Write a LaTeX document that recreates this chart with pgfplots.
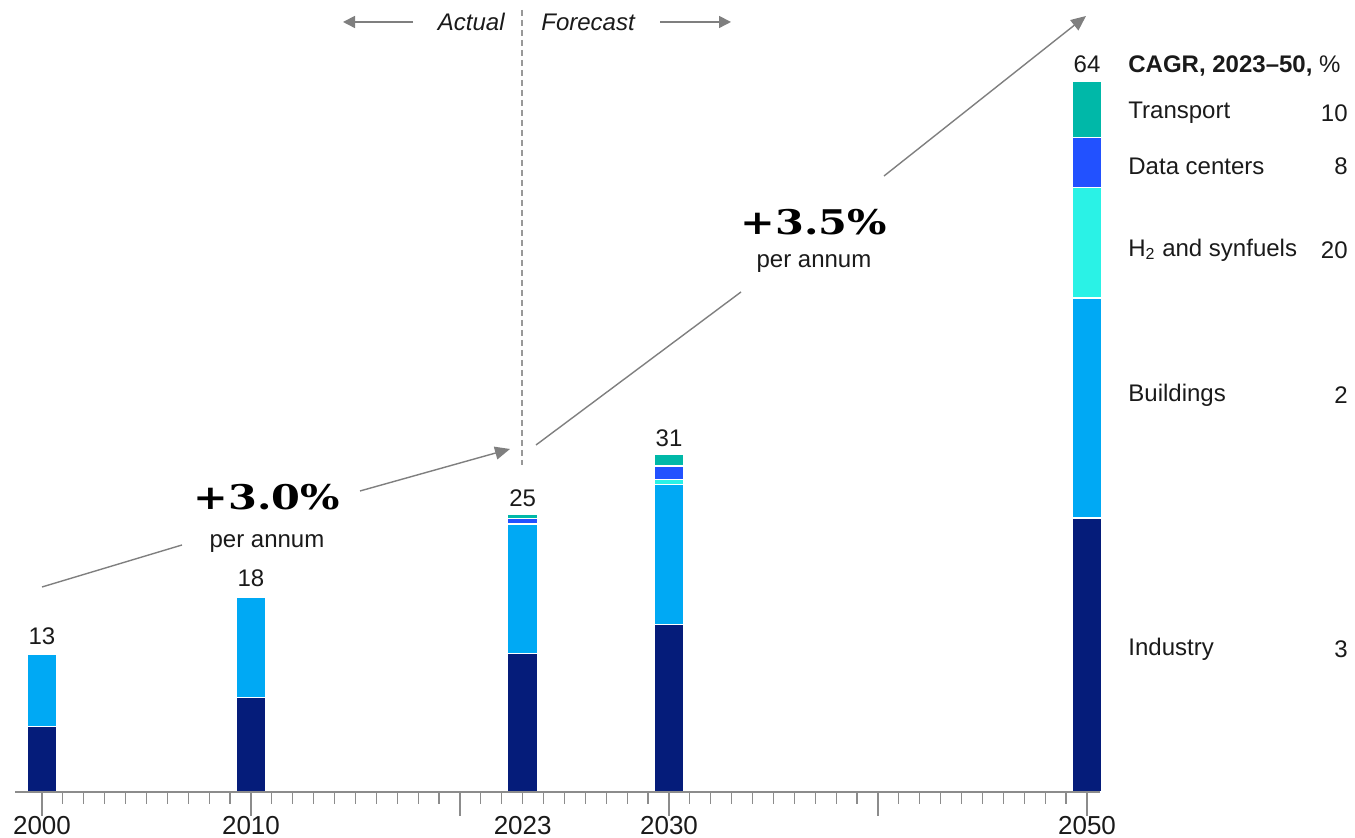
\documentclass[border=0pt]{standalone}
\usepackage{fontspec}
\setmainfont{Liberation Sans}
\newfontfamily\bigserif[FakeStretch=1.22]{DejaVu Serif Bold}
\usepackage{pgfplots}
\pgfplotsset{compat=1.18}
\usetikzlibrary{arrows.meta}
\definecolor{cInd}{HTML}{051C7A}
\definecolor{cBld}{HTML}{00A9F4}
\definecolor{cH2}{HTML}{2AF2E6}
\definecolor{cDat}{HTML}{2251FF}
\definecolor{cTra}{HTML}{00B8A8}
\definecolor{cGray}{HTML}{7F7F7F}
\definecolor{cTxt}{HTML}{1A1A1A}
\tikzset{vlab/.style={anchor=base, yshift=4pt, font=\fontsize{12}{14}\selectfont, text=cTxt},
  lt/.style={inner sep=0pt, font=\fontsize{12}{14}\selectfont, text=cTxt}}
\begin{document}
\begin{tikzpicture}
\begin{axis}[
  at={(7.5pt,23pt)}, anchor=south west,
  scale only axis, width=542.5pt, height=355.5pt,
  xmin=1998.71, xmax=2050.62, ymin=0, ymax=64,
  ybar stacked, bar width=15pt,
  axis x line*=bottom, hide y axis,
  axis on top,
  clip=false,
  xtick={2000,2010,2023,2030,2050},
  xticklabels={2000,2010,2023,2030,2050},
  minor xtick={2000,...,2050},
  extra x ticks={2000,2010,2020,2030,2040,2050},
  extra x tick labels={},
  extra x tick style={major tick length=12pt},
  tick align=outside,
  major tick length=6pt, minor tick length=6pt,
  tick style={color=gray!90, line width=0.6pt},
  axis line style={color=gray!90, line width=0.7pt},
  xticklabel style={font=\fontsize{13}{15}\selectfont, text=cTxt, yshift=-2.5pt},
]
\addplot[fill=cInd, draw=white, line width=0.6pt] coordinates {(2000,5.9) (2010,8.5) (2023,12.5) (2030,15.1) (2050,24.66)};
\addplot[fill=cBld, draw=white, line width=0.6pt] coordinates {(2000,6.5) (2010,9.05) (2023,11.55) (2030,12.55) (2050,19.8)};
\addplot[fill=cH2, draw=white, line width=0.6pt] coordinates {(2000,0.1) (2010,0.1) (2023,0.15) (2030,0.45) (2050,9.93)};
\addplot[fill=cDat, draw=white, line width=0.6pt] coordinates {(2000,0.05) (2010,0.05) (2023,0.4) (2030,1.25) (2050,4.5)};
\addplot[fill=cTra, draw=white, line width=0.6pt] coordinates {(2000,0.05) (2010,0.1) (2023,0.4) (2030,1.05) (2050,5.11)};
\node[vlab] at (axis cs:2000,12.6) {13};
\node[vlab] at (axis cs:2010,17.8) {18};
\node[vlab] at (axis cs:2023,25.0) {25};
\node[vlab] at (axis cs:2030,30.4) {31};
\node[vlab] at (axis cs:2050,64) {64};
\end{axis}
% Actual / Forecast
\draw[cGray!80, line width=0.6pt, dash pattern=on 3pt off 2pt] (261pt,414pt) -- (261pt,186.5pt);
\node[lt, anchor=east, font=\fontsize{12}{14}\selectfont\itshape] at (252.5pt,408pt) {Actual};
\node[lt, anchor=west, font=\fontsize{12}{14}\selectfont\itshape] at (270.5pt,408pt) {Forecast};
\draw[cGray, line width=0.8pt, -{Triangle[length=6pt,width=6pt]}] (206.5pt,408pt) -- (171.5pt,408pt);
\draw[cGray, line width=0.8pt, -{Triangle[length=6pt,width=6pt]}] (330pt,408pt) -- (365.5pt,408pt);
% CAGR arrows
\draw[cGray, line width=0.7pt] (21pt,125.5pt) -- (91pt,146.5pt);
\draw[cGray, line width=0.7pt, -{Triangle[length=7.5pt,width=6.5pt]}] (180pt,173.5pt) -- (255pt,194.5pt);
\node[font=\bigserif\fontsize{17}{19}\selectfont, text=black] at (133.5pt,170.5pt) {+3.0\%};
\node[lt] at (133.5pt,147pt) {per annum};
\draw[cGray, line width=0.7pt] (268pt,196.5pt) -- (370.5pt,273pt);
\draw[cGray, line width=0.7pt, -{Triangle[length=7.5pt,width=6.5pt]}] (442pt,331pt) -- (543pt,411pt);
\node[font=\bigserif\fontsize{17}{19}\selectfont, text=black] at (407pt,308pt) {+3.5\%};
\node[lt] at (407pt,287pt) {per annum};
% legend
\node[lt, anchor=west] at (564pt,386pt) {\textbf{CAGR, 2023–50,} \%};
\node[lt, anchor=west] at (564pt,362.5pt) {Transport};
\node[lt, anchor=west] at (564pt,336pt) {Data centers};
\node[lt, anchor=west] at (564pt,294pt) {H\textsubscript{2} and synfuels};
\node[lt, anchor=west] at (564pt,221.5pt) {Buildings};
\node[lt, anchor=west] at (564pt,94.5pt) {Industry};
\node[lt, anchor=east] at (674pt,362.5pt) {10};
\node[lt, anchor=east] at (674pt,336pt) {8};
\node[lt, anchor=east] at (674pt,294pt) {20};
\node[lt, anchor=east] at (674pt,221.5pt) {2};
\node[lt, anchor=east] at (674pt,94.5pt) {3};
\pgfresetboundingbox
\path[use as bounding box] (0pt,0pt) rectangle (677.5pt,419pt);
\end{tikzpicture}
\end{document}
